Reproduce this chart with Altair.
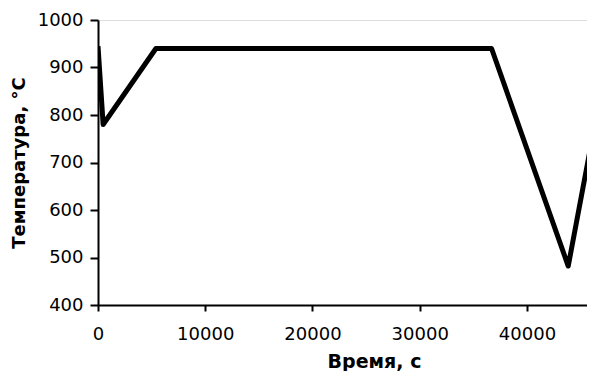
import altair as alt
import pandas as pd

time_s = [0, 480, 5400, 36700, 43850, 46600]
temp_c = [945, 780, 940, 940, 482, 812]

x_ticks = [0, 10000, 20000, 30000, 40000]
y_ticks = [400, 500, 600, 700, 800, 900, 1000]

df = pd.DataFrame({"t": time_s, "T": temp_c})

font = "DejaVu Sans"

chart = alt.Chart(df).mark_line(color="black", strokeWidth=5, clip=True, strokeJoin="round").encode(
    x=alt.X("t:Q", scale=alt.Scale(domain=[0, 45600], nice=False, zero=False),
            axis=alt.Axis(values=x_ticks, title="Время, с", grid=False, format="d",
                          domainColor="black", domainWidth=2, tickColor="black", tickWidth=2,
                          tickSize=6, labelFont=font, labelFontSize=18, labelColor="black",
                          labelPadding=14, titleFont=font, titleFontSize=19, titleFontWeight="bold",
                          titleColor="black", titlePadding=9, titleX=276, labelFlush=False)),
    y=alt.Y("T:Q", scale=alt.Scale(domain=[400, 1000], nice=False, zero=False),
            axis=alt.Axis(values=y_ticks, title="Температура, °C", grid=False, format="d",
                          domainColor="black", domainWidth=2, tickColor="black", tickWidth=2,
                          tickSize=8, labelFont=font, labelFontSize=18, labelColor="black",
                          labelPadding=7, titleFont=font, titleFontSize=18, titleFontWeight="bold",
                          titleColor="black", titlePadding=9)),
).properties(
    width=489, height=285,
    autosize=alt.AutoSizeParams(type="none"),
    padding={"left": 90, "top": 12, "right": 0, "bottom": 66},
).configure_view(stroke=None).configure(background="white")

chart.save("out.html", embed_options={"renderer": "svg", "actions": False})
